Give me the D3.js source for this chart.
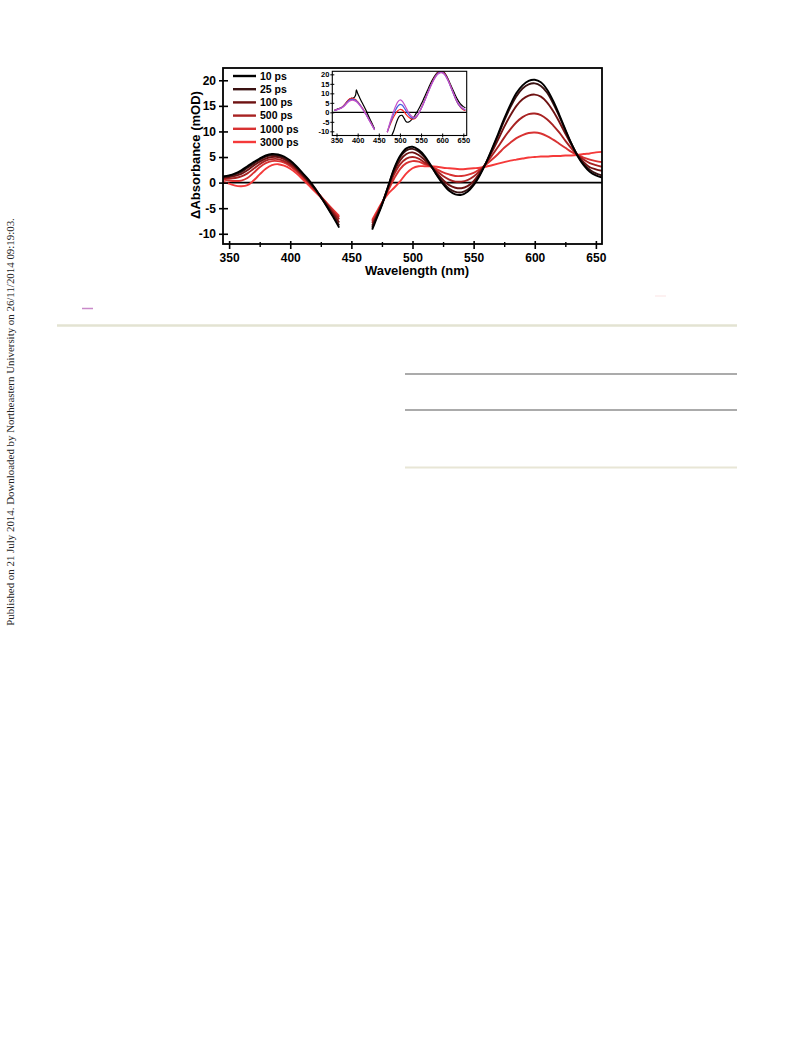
<!DOCTYPE html>
<html>
<head>
<meta charset="utf-8">
<script src="https://cdn.jsdelivr.net/npm/d3@7"></script>
<style>
  html, body { margin: 0; padding: 0; background: #fff; }
  svg { display: block; }
</style>
</head>
<body>
<svg id="chart" width="793" height="1039"></svg>
<script>
// ---------------- DATA ----------------
const seriesNames = ["10 ps", "25 ps", "100 ps", "500 ps", "1000 ps", "3000 ps"];
const wl1 = [345,350,355,360,365,370,375,380,385,390,395,400,405,410,415,420,425,430,435,440];
const wl2 = [467,470,475,480,485,490,495,500,505,510,515,520,525,530,535,540,545,550,555,560,565,570,575,580,585,590,595,600,605,610,615,620,625,630,635,640,645,650,655];

const s10_a   = [1.2,1.4,1.8,2.4,3.2,4.0,4.7,5.3,5.6,5.5,5.1,4.3,3.2,1.9,0.6,-1.0,-2.8,-4.7,-6.7,-8.8];
const s25_a   = [1.1,1.3,1.6,2.1,2.9,3.7,4.5,5.1,5.4,5.3,4.9,4.1,3.0,1.7,0.4,-1.1,-2.8,-4.6,-6.5,-8.4];
const s100_a  = [1.0,1.1,1.3,1.7,2.4,3.3,4.1,4.7,5.0,5.0,4.6,3.8,2.8,1.5,0.2,-1.2,-2.8,-4.4,-6.1,-7.8];
const s500_a  = [0.8,0.8,0.9,1.2,1.8,2.7,3.6,4.3,4.6,4.6,4.2,3.5,2.5,1.3,0.1,-1.3,-2.7,-4.2,-5.7,-7.2];
const s1000_a = [0.6,0.4,0.3,0.4,0.9,1.9,3.0,3.8,4.2,4.2,3.9,3.2,2.2,1.1,-0.1,-1.4,-2.7,-4.0,-5.4,-6.8];
const s3000_a = [0.2,-0.2,-0.6,-0.7,-0.5,0.4,1.6,2.7,3.4,3.6,3.3,2.7,1.8,0.7,-0.5,-1.7,-2.9,-4.1,-5.3,-6.5];

const s10_b   = [-9.2,-7.4,-4.4,-0.8,2.8,5.3,6.7,7.0,6.4,5.2,3.4,1.4,-0.3,-1.6,-2.3,-2.4,-1.8,-0.5,1.4,3.8,6.6,9.5,12.5,15.2,17.5,19.0,19.9,20.1,19.6,18.2,16.0,13.3,10.4,7.6,5.2,3.4,2.1,1.4,1.0];
const s25_b   = [-8.8,-7.1,-4.2,-0.8,2.6,5.0,6.3,6.6,6.1,4.9,3.3,1.5,0.0,-1.2,-1.8,-1.9,-1.4,-0.2,1.6,3.8,6.4,9.2,12.1,14.7,16.9,18.4,19.2,19.4,18.9,17.6,15.5,13.0,10.2,7.6,5.3,3.6,2.5,1.8,1.4];
const s100_b  = [-8.4,-6.9,-4.2,-1.0,2.2,4.4,5.6,5.9,5.4,4.4,3.2,1.8,0.5,-0.5,-1.0,-1.1,-0.7,0.3,1.9,3.8,6.0,8.4,10.9,13.1,15.0,16.3,17.0,17.2,16.8,15.7,14.0,11.9,9.6,7.4,5.4,4.0,3.0,2.6,2.3];
const s500_b  = [-7.9,-6.6,-4.1,-1.3,1.6,3.6,4.7,5.0,4.7,3.9,3.2,2.2,1.3,0.6,0.2,0.2,0.5,1.2,2.3,3.7,5.3,7.0,8.8,10.4,11.8,12.8,13.4,13.5,13.2,12.4,11.2,9.8,8.2,6.7,5.4,4.5,3.8,3.4,3.1];
const s1000_b = [-7.6,-6.3,-4.0,-1.6,0.8,2.7,3.8,4.2,4.1,3.6,3.2,2.6,2.0,1.6,1.3,1.3,1.5,1.9,2.6,3.5,4.5,5.6,6.8,7.8,8.7,9.3,9.7,9.8,9.6,9.1,8.4,7.6,6.8,6.0,5.4,4.9,4.5,4.2,4.0];
const s3000_b = [-7.3,-6.0,-3.9,-2.2,-1.0,0.3,1.8,2.8,3.2,3.2,3.2,3.1,2.9,2.8,2.7,2.6,2.7,2.8,2.9,3.1,3.4,3.7,4.0,4.3,4.5,4.7,4.9,5.0,5.1,5.1,5.2,5.2,5.3,5.3,5.4,5.6,5.7,5.9,6.0];

// inset
const inWl1 = [345,350,355,360,365,370,375,380,385,390,395,397,400,405,410,415,420,425,430,435,440];
const inWl2 = [475,480,485,490,495,500,505,510,515,520,525,530,535,540,545,550,555,560,565,570,575,580,585,590,595,600,605,610,615,620,625,630,635,640,645,650,655];
const inWl2b = [470,475,480,485,490,495,500,505,510,515,520,525,530,535,540,545,550,555,560,565,570,575,580,585,590,595,600,605,610,615,620,625,630,635,640,645,650,655];

const inBlack_a   = [1.0,1.5,2.0,2.3,3.0,4.2,5.6,6.8,7.4,7.5,9.0,11.8,10.0,7.6,5.3,3.2,0.9,-1.6,-4.0,-6.3,-8.8];
const inRed_a     = [1.0,1.4,1.9,2.3,3.1,4.3,5.8,6.9,7.4,7.3,6.7,6.3,5.6,4.2,2.6,0.9,-1.0,-3.0,-5.0,-7.0,-9.0];
const inBlue_a    = [1.0,1.3,1.8,2.2,2.9,4.0,5.3,6.3,6.8,6.8,6.3,6.0,5.3,4.0,2.4,0.7,-1.1,-3.1,-5.1,-7.1,-9.1];
const inMagenta_a = [1.0,1.3,1.7,2.1,2.7,3.7,4.9,5.8,6.3,6.3,5.9,5.6,5.0,3.7,2.2,0.5,-1.3,-3.3,-5.3,-7.3,-9.3];

const inBlack_b   = [-15.0,-12.5,-10.0,-6.5,-3.5,-1.8,-1.6,-3.2,-5.0,-5.2,-4.5,-3.2,-1.8,0.0,2.0,4.2,6.5,9.0,11.5,14.0,16.3,18.3,20.0,21.2,21.8,21.8,21.0,19.3,17.0,14.5,12.0,9.5,7.2,5.4,4.0,3.0,2.4];
const inRed_b     = [-10.5,-7.5,-4.8,-2.5,-0.6,0.8,1.5,1.3,0.2,-1.2,-2.4,-3.2,-3.6,-3.4,-2.2,-0.3,2.0,4.5,7.2,10.0,12.7,15.3,17.6,19.5,20.9,21.6,21.5,20.6,18.9,16.5,13.7,10.8,8.0,5.5,3.6,2.2,1.3,0.8];
const inBlue_b    = [-10.5,-7.0,-3.8,-1.0,1.4,3.2,4.2,3.8,2.4,0.6,-1.0,-2.3,-3.0,-3.0,-2.0,-0.3,1.9,4.3,7.0,9.8,12.5,15.0,17.3,19.2,20.5,21.2,21.1,20.2,18.5,16.2,13.5,10.7,8.0,5.6,3.8,2.5,1.7,1.2];
const inMagenta_b = [-10.5,-6.5,-2.8,0.5,3.3,5.5,6.5,6.0,4.3,2.2,0.2,-1.4,-2.4,-2.6,-1.8,-0.2,1.9,4.2,6.8,9.5,12.2,14.7,16.9,18.8,20.1,20.8,20.8,20.0,18.4,16.2,13.6,10.9,8.3,6.0,4.2,2.9,2.0,1.5];

const yTicks = [-10,-5,0,5,10,15,20];
const xTicks = [350,400,450,500,550,600,650];
const xMinorTicks = [375,425,475,525,575,625];
const inYTicks = [-10,-5,0,5,10,15,20];
const inXTicks = [350,400,450,500,550,600,650];

const xLabel = "Wavelength (nm)";
const yLabel = "\u0394Absorbance (mOD)";
const sideNote = "Published on 21 July 2014. Downloaded by Northeastern University on 26/11/2014 09:19:03.";

// ---------------- STYLE ----------------
const colors = ["#000000", "#3a1212", "#6e1212", "#a82222", "#d83232", "#f53a3a"];
const inColors = {black: "#000000", red: "#ff2222", blue: "#4a5ee0", magenta: "#c552c8"};
const FONT = '"Liberation Sans", Arial, sans-serif';
const fmt = d => String(d);   // plain hyphen-minus like the reference

const svg = d3.select("#chart");
const defs = svg.append("defs");

// ---------- page decorations ----------
svg.append("text")
  .attr("transform", "translate(14,422) rotate(-90)")
  .attr("text-anchor", "middle")
  .attr("font-family", '"Liberation Serif", "Times New Roman", serif')
  .attr("font-size", 10.9)
  .attr("fill", "#222")
  .text(sideNote);

svg.append("line").attr("x1", 82).attr("x2", 93).attr("y1", 308.5).attr("y2", 308.5)
  .attr("stroke", "#c98ac9").attr("stroke-width", 1.5);
svg.append("line").attr("x1", 655).attr("x2", 666).attr("y1", 296).attr("y2", 296)
  .attr("stroke", "#fbe3e3").attr("stroke-width", 1);
svg.append("line").attr("x1", 57).attr("x2", 737).attr("y1", 325.5).attr("y2", 325.5)
  .attr("stroke", "#e3e3d2").attr("stroke-width", 2.5);
svg.append("line").attr("x1", 405).attr("x2", 737).attr("y1", 374).attr("y2", 374)
  .attr("stroke", "#8f8f8f").attr("stroke-width", 1.3);
svg.append("line").attr("x1", 405).attr("x2", 737).attr("y1", 410).attr("y2", 410)
  .attr("stroke", "#8f8f8f").attr("stroke-width", 1.3);
svg.append("line").attr("x1", 405).attr("x2", 737).attr("y1", 467.5).attr("y2", 467.5)
  .attr("stroke", "#e8e6d6").attr("stroke-width", 2);

// ---------- main chart ----------
const M = {l: 223, r: 602, t: 68, b: 244};
const x = d3.scaleLinear().domain([345, 655]).range([M.l, M.r]);
const y = d3.scaleLinear().domain([-12, 22.4]).range([M.b, M.t]);

defs.append("clipPath").attr("id", "mainClip")
  .append("rect").attr("x", M.l).attr("y", M.t).attr("width", M.r - M.l).attr("height", M.b - M.t);

// zero line
svg.append("line").attr("x1", M.l).attr("x2", M.r).attr("y1", y(0)).attr("y2", y(0))
  .attr("stroke", "#000").attr("stroke-width", 1.6);

const segA = [s10_a, s25_a, s100_a, s500_a, s1000_a, s3000_a];
const segB = [s10_b, s25_b, s100_b, s500_b, s1000_b, s3000_b];
const line = d3.line().x(d => x(d[0])).y(d => y(d[1])).curve(d3.curveCatmullRom.alpha(0.5));

const gLines = svg.append("g").attr("clip-path", "url(#mainClip)");
for (let i = seriesNames.length - 1; i >= 0; i--) {
  [[wl1, segA[i]], [wl2, segB[i]]].forEach(([w, v]) => {
    gLines.append("path")
      .datum(w.map((d, k) => [d, v[k]]))
      .attr("d", line)
      .attr("fill", "none")
      .attr("stroke", colors[i])
      .attr("stroke-width", 1.9)
      .attr("stroke-linejoin", "round");
  });
}

// frame
svg.append("rect").attr("x", M.l).attr("y", M.t).attr("width", M.r - M.l).attr("height", M.b - M.t)
  .attr("fill", "none").attr("stroke", "#000").attr("stroke-width", 1.8);

// y axis
const yAxis = svg.append("g").attr("transform", `translate(${M.l},0)`)
  .call(d3.axisLeft(y).tickValues(yTicks).tickSize(4).tickPadding(3).tickFormat(fmt));
yAxis.select(".domain").remove();
yAxis.selectAll(".tick line").attr("x1", 5).attr("stroke-width", 1.6);
yAxis.selectAll(".tick text").attr("font-size", 12).attr("font-family", FONT).attr("font-weight", "bold");

// x axis
const xAxis = svg.append("g").attr("transform", `translate(0,${M.b})`)
  .call(d3.axisBottom(x).tickValues(xTicks).tickSize(5).tickPadding(4.5).tickFormat(fmt));
xAxis.select(".domain").remove();
xAxis.selectAll(".tick line").attr("y1", -3).attr("stroke-width", 1.6);
xAxis.selectAll(".tick text").attr("font-size", 12).attr("font-family", FONT).attr("font-weight", "bold");

const xMinor = svg.append("g").attr("transform", `translate(0,${M.b})`)
  .call(d3.axisBottom(x).tickValues(xMinorTicks).tickSize(3).tickFormat(""));
xMinor.select(".domain").remove();
xMinor.selectAll(".tick line").attr("y1", -2).attr("stroke-width", 1.4);

// axis titles
svg.append("text").attr("x", 417).attr("y", 275).attr("text-anchor", "middle")
  .attr("font-family", FONT).attr("font-weight", "bold").attr("font-size", 13).text(xLabel);
svg.append("text").attr("transform", "translate(200,155) rotate(-90)").attr("text-anchor", "middle")
  .attr("font-family", FONT).attr("font-weight", "bold").attr("font-size", 13).text(yLabel);

// legend
const leg = svg.append("g");
seriesNames.forEach((name, i) => {
  const yy = 76 + i * 13.2;
  leg.append("line").attr("x1", 233).attr("x2", 256).attr("y1", yy).attr("y2", yy)
    .attr("stroke", colors[i]).attr("stroke-width", 2.4);
  leg.append("text").attr("x", 260).attr("y", yy).attr("dy", "0.36em")
    .attr("font-family", FONT).attr("font-weight", "bold").attr("font-size", 10.5).text(name);
});

// ---------- inset ----------
const I = {l: 332.3, r: 466.7, t: 71.3, b: 135.5};
const xi = d3.scaleLinear().domain([340, 658]).range([I.l, I.r]);
const yi = d3.scaleLinear().domain([-12.2, 21.6]).range([I.b, I.t]);

defs.append("clipPath").attr("id", "insetClip")
  .append("rect").attr("x", I.l).attr("y", I.t).attr("width", I.r - I.l).attr("height", I.b - I.t);

svg.append("rect").attr("x", I.l).attr("y", I.t).attr("width", I.r - I.l).attr("height", I.b - I.t)
  .attr("fill", "#fff");

svg.append("line").attr("x1", I.l).attr("x2", I.r).attr("y1", yi(0)).attr("y2", yi(0))
  .attr("stroke", "#000").attr("stroke-width", 1.1);

const lineI = d3.line().x(d => xi(d[0])).y(d => yi(d[1])).curve(d3.curveCatmullRom.alpha(0.5));
const gIn = svg.append("g").attr("clip-path", "url(#insetClip)");
const inSeries = [
  ["black", inBlack_a, inWl2, inBlack_b],
  ["red", inRed_a, inWl2b, inRed_b],
  ["blue", inBlue_a, inWl2b, inBlue_b],
  ["magenta", inMagenta_a, inWl2b, inMagenta_b]
];
inSeries.forEach(([c, a, w2, b]) => {
  [[inWl1, a], [w2, b]].forEach(([w, v]) => {
    gIn.append("path").datum(w.map((d, k) => [d, v[k]]))
      .attr("d", lineI).attr("fill", "none")
      .attr("stroke", inColors[c]).attr("stroke-width", 1.2);
  });
});

svg.append("rect").attr("x", I.l).attr("y", I.t).attr("width", I.r - I.l).attr("height", I.b - I.t)
  .attr("fill", "none").attr("stroke", "#000").attr("stroke-width", 1.1);

const yAxI = svg.append("g").attr("transform", `translate(${I.l},0)`)
  .call(d3.axisLeft(yi).tickValues(inYTicks).tickSize(2).tickPadding(1).tickFormat(fmt));
yAxI.select(".domain").remove();
yAxI.selectAll(".tick line").attr("x1", 2).attr("stroke-width", 1);
yAxI.selectAll(".tick text").attr("font-size", 7.5).attr("font-family", FONT).attr("font-weight", "bold");

const xAxI = svg.append("g").attr("transform", `translate(0,${I.b})`)
  .call(d3.axisBottom(xi).tickValues(inXTicks).tickSize(2).tickPadding(0.5).tickFormat(fmt));
xAxI.select(".domain").remove();
xAxI.selectAll(".tick line").attr("y1", -2).attr("stroke-width", 1);
xAxI.selectAll(".tick text").attr("font-size", 7.5).attr("font-family", FONT).attr("font-weight", "bold");
</script>
</body>
</html>
